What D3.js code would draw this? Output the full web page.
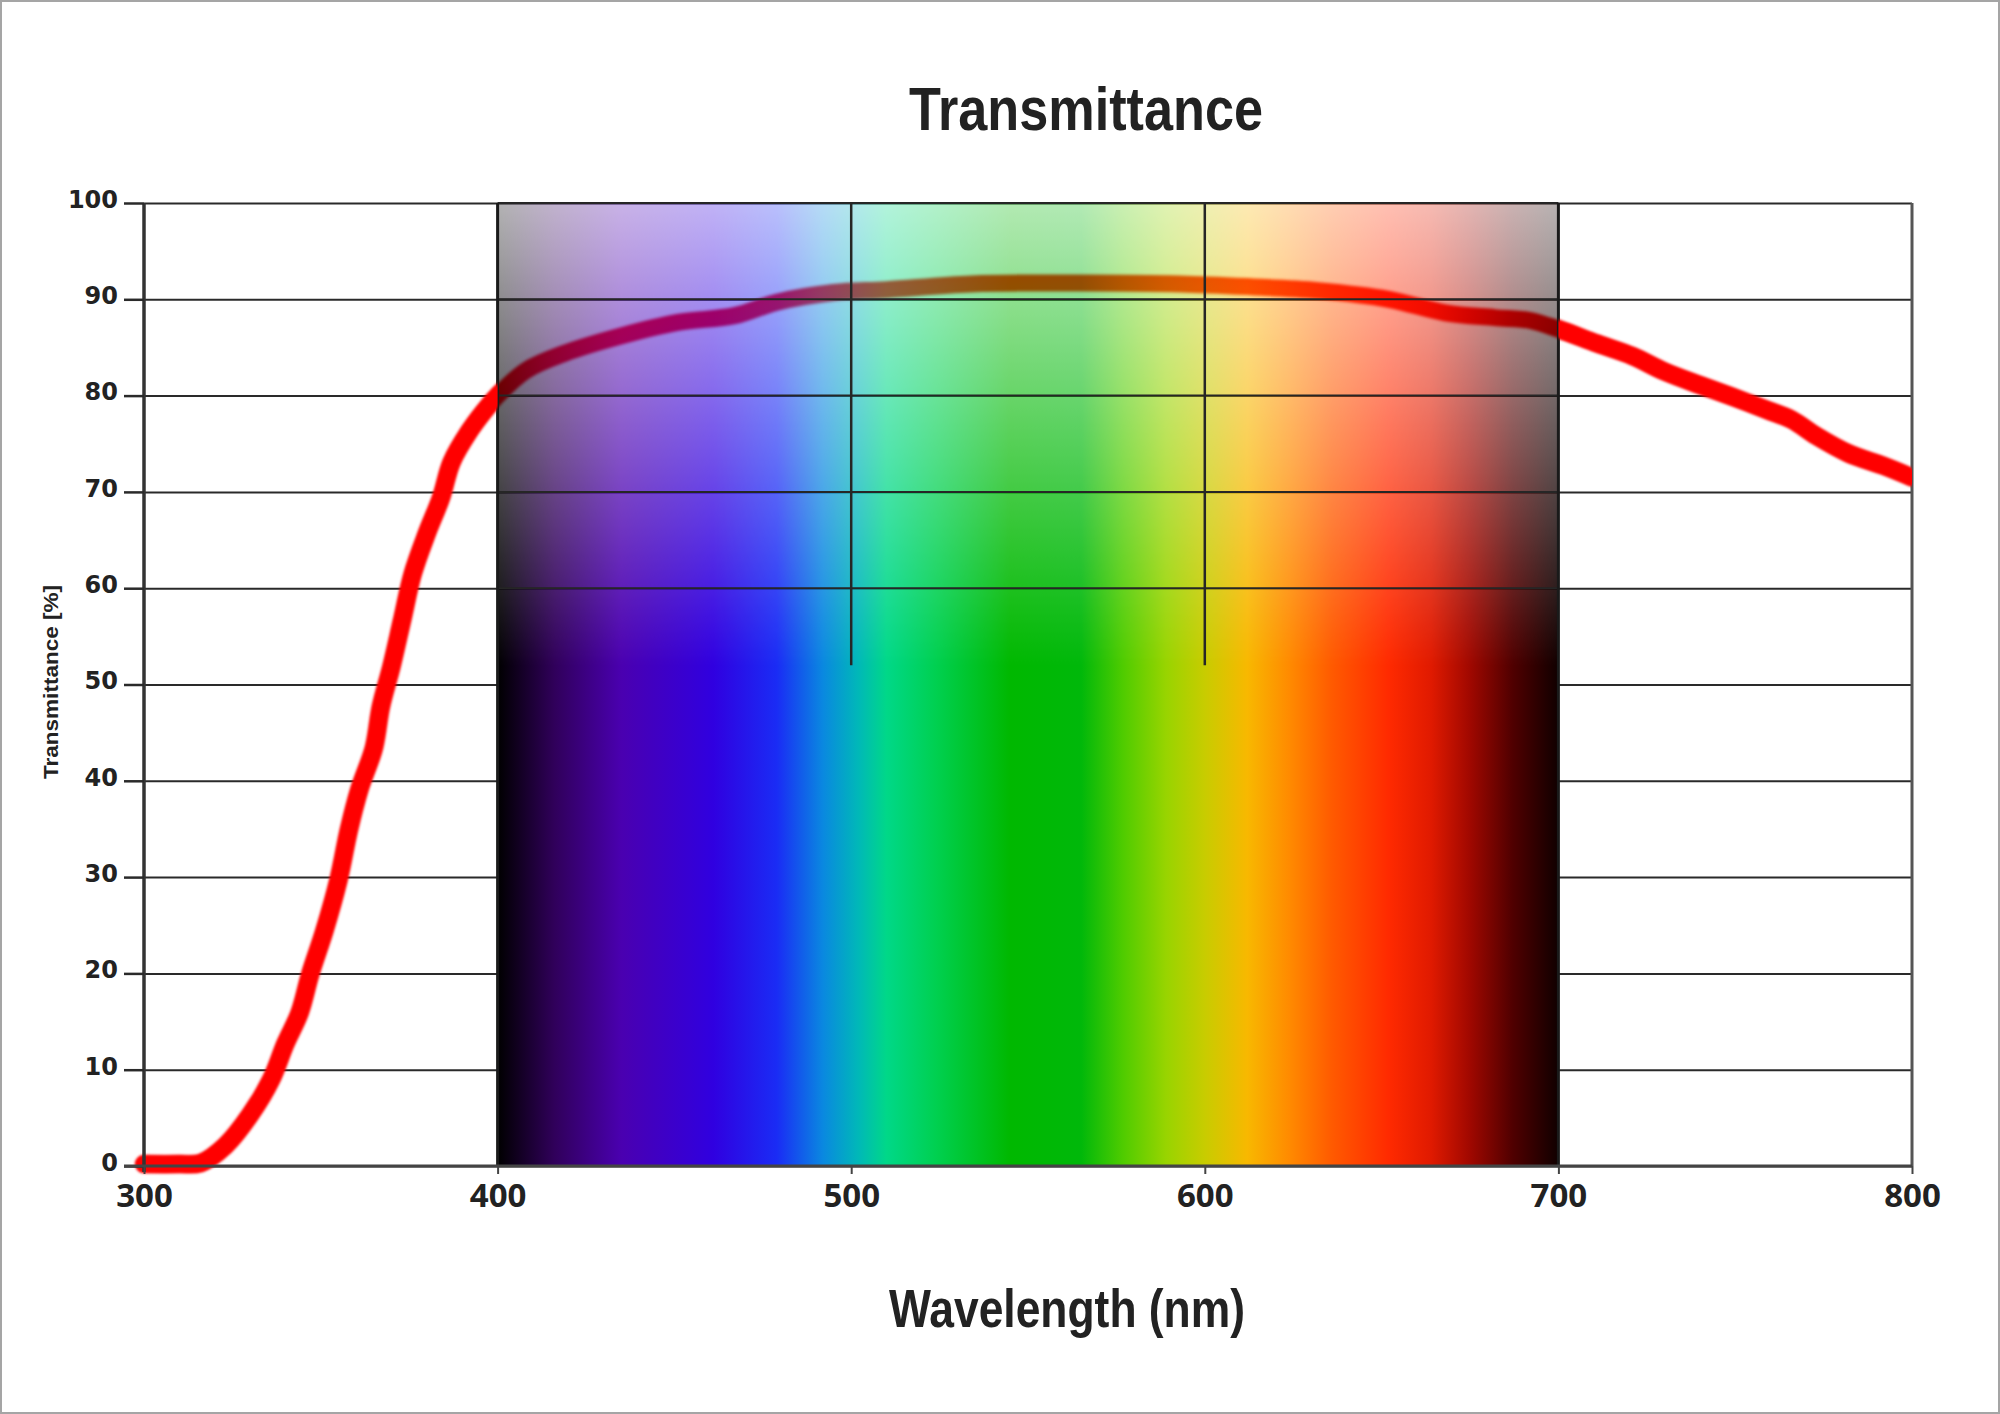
<!DOCTYPE html>
<html>
<head>
<meta charset="utf-8">
<script src="https://cdn.jsdelivr.net/npm/d3@7"></script>
<style>
  body { margin: 0; background: #fff; }
  svg { display: block; }
</style>
</head>
<body>
<svg id="chart" width="2000" height="1414"></svg>
<script>
// transmittance curve
var wavelengths = [300, 310, 316, 323, 330, 336, 340, 344, 347, 351, 355, 358, 361, 365, 367, 370, 373, 376, 380, 384, 387, 392, 396, 400,
  408, 419, 435, 451, 467, 479, 495, 510, 534, 564, 593, 613, 632, 652, 668, 682, 692, 700,
  711, 721, 730, 740, 749, 759, 766, 773, 782, 792, 800];
var transmittance = [0.2, 0.2, 0.3, 2.1, 5.3, 9.0, 12.7, 15.9, 19.9, 24.4, 29.7, 35.0, 39.2, 43.4, 47.7, 51.9, 56.7, 61.5, 65.7, 69.4, 73.1, 76.3, 78.3, 80.0,
  82.6, 84.4, 86.2, 87.6, 88.3, 89.7, 90.7, 91.0, 91.6, 91.7, 91.6, 91.3, 90.9, 90.0, 88.6, 88.1, 87.8, 86.9,
  85.4, 84.1, 82.5, 81.1, 79.9, 78.5, 77.5, 75.8, 74.0, 72.7, 71.5];

// visible spectrum band
var spectrumNm = [400, 416, 435, 461, 479, 492, 502, 510, 524, 545, 565, 577, 589, 600, 612, 624, 636, 652, 664, 675, 687, 700];
var spectrumColors = ["#000000", "#30005a", "#4a00b0", "#3000e0", "#1a2cf5", "#0a88e0", "#00b8b8", "#00d888", "#00d050", "#00b800",
  "#00b80a", "#50cc00", "#98d400", "#c8cc00", "#f8b800", "#ff8a00", "#ff5a00", "#ff2a00", "#e01a00", "#a00800", "#500000", "#100000"];

var xTicks = [300, 400, 500, 600, 700, 800];
var yTicks = [0, 10, 20, 30, 40, 50, 60, 70, 80, 90, 100];
var fadeFrom = 52;   // spectrum is opaque below this transmittance

var width = 2000, height = 1414;
var plotLeft = 144, plotRight = 1912, plotTop = 203, plotBottom = 1166;

var x = d3.scaleLinear().domain([300, 800]).range([plotLeft, plotRight]);
var y = d3.scaleLinear().domain([0, 100]).range([plotBottom, plotTop]);

var svg = d3.select("#chart");
var defs = svg.append("defs");

// horizontal gradient of the spectrum
var grad = defs.append("linearGradient")
    .attr("id", "spec")
    .attr("x1", 0).attr("x2", 1).attr("y1", 0).attr("y2", 0);
grad.selectAll("stop")
    .data(spectrumNm)
    .join("stop")
    .attr("offset", d => (d - 400) / 300)
    .attr("stop-color", (d, i) => spectrumColors[i]);

// upper part of the spectrum fades out
var fade = defs.append("linearGradient")
    .attr("id", "fade")
    .attr("gradientUnits", "userSpaceOnUse")
    .attr("x1", 0).attr("x2", 0).attr("y1", y(100)).attr("y2", y(fadeFrom));
fade.append("stop").attr("offset", 0).attr("stop-color", "rgb(77,77,77)");
fade.append("stop").attr("offset", 1).attr("stop-color", "#fff");

defs.append("mask")
    .attr("id", "fadeMask")
    .attr("maskUnits", "userSpaceOnUse")
    .attr("x", 0).attr("y", 0).attr("width", width).attr("height", height)
    .append("rect")
    .attr("x", x(400)).attr("y", y(100))
    .attr("width", x(700) - x(400)).attr("height", y(0) - y(100))
    .attr("fill", "url(#fade)");

var blur = defs.append("filter")
    .attr("id", "soft")
    .attr("x", "-5%").attr("y", "-5%").attr("width", "110%").attr("height", "110%");
blur.append("feGaussianBlur").attr("stdDeviation", 1.8);

// curve shown on top everywhere except over the spectrum
var outside = defs.append("clipPath").attr("id", "outside");
outside.append("rect")
    .attr("x", plotLeft - 12).attr("y", plotTop - 20)
    .attr("width", x(400) - plotLeft + 12).attr("height", plotBottom - plotTop + 40);
outside.append("rect")
    .attr("x", x(700)).attr("y", plotTop - 20)
    .attr("width", plotRight - x(700)).attr("height", plotBottom - plotTop + 40);

var plotClip = defs.append("clipPath").attr("id", "plotClip");
plotClip.append("rect")
    .attr("x", plotLeft - 12).attr("y", plotTop - 20)
    .attr("width", plotRight - plotLeft + 12).attr("height", plotBottom - plotTop + 40);

svg.append("rect")
    .attr("x", 1).attr("y", 1)
    .attr("width", width - 2).attr("height", height - 2)
    .attr("fill", "#fff")
    .attr("stroke", "#a5a5a5")
    .attr("stroke-width", 2);

// grid under the spectrum
svg.append("g")
    .attr("class", "grid")
    .attr("transform", `translate(${plotLeft},0)`)
    .call(d3.axisLeft(y).tickValues(yTicks).tickSize(-(plotRight - plotLeft)).tickFormat(""))
    .call(g => g.select(".domain").remove())
    .call(g => g.selectAll("line").attr("stroke", "#2a2a2a").attr("stroke-width", 2));

var line = d3.line()
    .x((d, i) => x(wavelengths[i]))
    .y(d => y(d))
    .curve(d3.curveCatmullRom.alpha(0.5));

function drawCurve(clipId) {
    svg.append("path")
        .datum(transmittance)
        .attr("clip-path", `url(#${clipId})`)
        .attr("fill", "none")
        .attr("stroke", "#ff0000")
        .attr("stroke-width", 17)
        .attr("stroke-linecap", "round")
        .attr("stroke-linejoin", "round")
        .attr("filter", "url(#soft)")
        .attr("d", line);
}

drawCurve("plotClip");

svg.append("rect")
    .attr("x", x(400)).attr("y", y(100))
    .attr("width", x(700) - x(400)).attr("height", y(0) - y(100))
    .attr("fill", "url(#spec)")
    .attr("mask", "url(#fadeMask)");

// grid lines that show over the faded part
var over = svg.append("g").attr("stroke", "#262626").attr("stroke-width", 2);
over.selectAll("line.h")
    .data(yTicks.filter(d => d >= fadeFrom))
    .join("line")
    .attr("class", "h")
    .attr("x1", x(400)).attr("x2", x(700))
    .attr("y1", d => y(d)).attr("y2", d => y(d));
over.selectAll("line.v")
    .data([500, 600])
    .join("line")
    .attr("class", "v")
    .attr("stroke-width", 2.5)
    .attr("x1", d => x(d)).attr("x2", d => x(d))
    .attr("y1", y(100)).attr("y2", y(fadeFrom));
over.selectAll("line.e")
    .data([400, 700])
    .join("line")
    .attr("class", "e")
    .attr("stroke-width", 3)
    .attr("stroke", "#1a1a1a")
    .attr("x1", d => x(d)).attr("x2", d => x(d))
    .attr("y1", y(100)).attr("y2", y(0));

svg.append("line")
    .attr("x1", plotRight).attr("x2", plotRight)
    .attr("y1", y(100)).attr("y2", y(0))
    .attr("stroke", "#555").attr("stroke-width", 3);

drawCurve("outside");

// axes
var yAxis = svg.append("g")
    .attr("transform", `translate(${plotLeft},0)`)
    .call(d3.axisLeft(y).tickValues(yTicks).tickSize(20).tickPadding(6));
yAxis.select(".domain").attr("stroke", "#333").attr("stroke-width", 3.5)
    .attr("d", `M0,${y(100)}V${y(0) + 6}`);
yAxis.selectAll(".tick line").attr("stroke", "#2a2a2a").attr("stroke-width", 2.5);
yAxis.selectAll(".tick text")
    .attr("fill", "#222")
    .attr("dy", "0.18em")
    .style("font", "bold 24px 'DejaVu Sans', sans-serif");

var xAxis = svg.append("g")
    .attr("transform", `translate(0,${plotBottom})`)
    .call(d3.axisBottom(x).tickValues(xTicks).tickSize(8).tickPadding(10));
xAxis.select(".domain").attr("stroke", "#444").attr("stroke-width", 3)
    .attr("d", `M${plotLeft - 20},0H${plotRight}`);
xAxis.selectAll(".tick line").attr("stroke", "#444").attr("stroke-width", 2);
xAxis.selectAll(".tick text")
    .attr("fill", "#222")
    .style("font", "bold 33px 'Open Sans', sans-serif");

svg.append("text")
    .attr("x", 1086).attr("y", 130)
    .attr("text-anchor", "middle")
    .attr("textLength", 354)
    .attr("lengthAdjust", "spacingAndGlyphs")
    .attr("fill", "#222")
    .style("font", "bold 62px 'Liberation Sans Narrow', 'Liberation Sans', sans-serif")
    .text("Transmittance");

svg.append("text")
    .attr("x", 1067).attr("y", 1327)
    .attr("text-anchor", "middle")
    .attr("textLength", 356)
    .attr("lengthAdjust", "spacingAndGlyphs")
    .attr("fill", "#222")
    .style("font", "bold 53px 'Liberation Sans Narrow', 'Liberation Sans', sans-serif")
    .text("Wavelength (nm)");

svg.append("text")
    .attr("transform", "translate(58,682) rotate(-90)")
    .attr("text-anchor", "middle")
    .attr("textLength", 194)
    .attr("lengthAdjust", "spacingAndGlyphs")
    .attr("fill", "#222")
    .style("font", "bold 20px 'Liberation Sans', sans-serif")
    .text("Transmittance [%]");
</script>
</body>
</html>
